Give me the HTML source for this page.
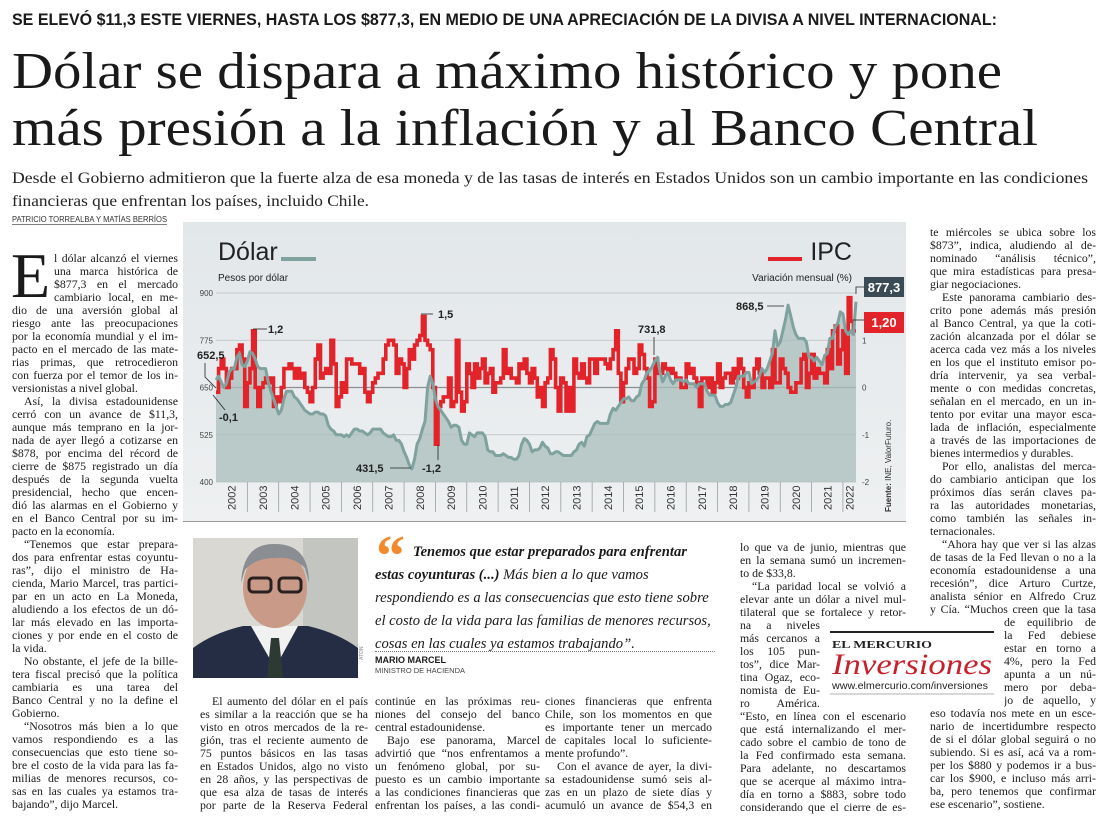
<!DOCTYPE html>
<html><head><meta charset="utf-8">
<style>
*{margin:0;padding:0;box-sizing:border-box}
body{width:1100px;height:827px;background:#fff;position:relative;overflow:hidden;font-family:"Liberation Serif",serif;color:#1a1a1a}
.abs{position:absolute}
.col{position:absolute;font-size:11.8px;line-height:13px}
.l{height:13px;white-space:nowrap;text-align:justify;text-align-last:justify;overflow:hidden}
.e{text-align-last:left}
.i{text-indent:12px}
</style></head><body>

<svg class="abs" style="left:0;top:0" width="1100" height="160">
<text x="12" y="25" font-family="Liberation Sans, sans-serif" font-weight="bold" font-size="17" textLength="985" lengthAdjust="spacingAndGlyphs" fill="#1a1a1a">SE ELEVÓ $11,3 ESTE VIERNES, HASTA LOS $877,3, EN MEDIO DE UNA APRECIACIÓN DE LA DIVISA A NIVEL INTERNACIONAL:</text>
<text x="12" y="88" font-family="Liberation Serif, serif" font-size="52" textLength="990" lengthAdjust="spacingAndGlyphs" fill="#1a1a1a">Dólar se dispara a máximo histórico y pone</text>
<text x="12" y="145" font-family="Liberation Serif, serif" font-size="52" textLength="1026" lengthAdjust="spacingAndGlyphs" fill="#1a1a1a">más presión a la inflación y al Banco Central</text>
</svg>
<svg class="abs" style="left:0;top:160" width="1100" height="70">
<text x="12" y="23" font-family="Liberation Serif, serif" font-size="16" textLength="1076" lengthAdjust="spacingAndGlyphs" fill="#222">Desde el Gobierno admitieron que la fuerte alza de esa moneda y de las tasas de interés en Estados Unidos son un cambio importante en las condiciones</text>
<text x="12" y="46" font-family="Liberation Serif, serif" font-size="16" textLength="357" lengthAdjust="spacingAndGlyphs" fill="#222">financieras que enfrentan los países, incluido Chile.</text>
<text x="12" y="62" font-family="Liberation Sans, sans-serif" font-size="8" textLength="155" lengthAdjust="spacingAndGlyphs" fill="#333">PATRICIO TORREALBA Y MATÍAS BERRÍOS</text>
<line x1="12" y1="64.5" x2="167" y2="64.5" stroke="#555" stroke-width="0.7"/>
</svg>

<!-- left column -->
<div class="abs" style="left:11px;top:250px;font-size:64px;line-height:52px;font-family:'Liberation Serif',serif">E</div>
<div class="col" style="left:12px;top:252px;width:166px">
<div class="l" style="margin-left:42px">l dólar alcanzó el viernes</div>
<div class="l" style="margin-left:42px">una marca histórica de</div>
<div class="l" style="margin-left:42px">$877,3 en el mercado</div>
<div class="l" style="margin-left:42px">cambiario local, en me-</div>
<div class="l">dio de una aversión global al</div>
<div class="l">riesgo ante las preocupaciones</div>
<div class="l">por la economía mundial y el im-</div>
<div class="l">pacto en el mercado de las mate-</div>
<div class="l">rias primas, que retrocedieron</div>
<div class="l">con fuerza por el temor de los in-</div>
<div class="l e">versionistas a nivel global.</div>
<div class="l i">Así, la divisa estadounidense</div>
<div class="l">cerró con un avance de $11,3,</div>
<div class="l">aunque más temprano en la jor-</div>
<div class="l">nada de ayer llegó a cotizarse en</div>
<div class="l">$878, por encima del récord de</div>
<div class="l">cierre de $875 registrado un día</div>
<div class="l">después de la segunda vuelta</div>
<div class="l">presidencial, hecho que encen-</div>
<div class="l">dió las alarmas en el Gobierno y</div>
<div class="l">en el Banco Central por su im-</div>
<div class="l e">pacto en la economía.</div>
<div class="l i">“Tenemos que estar prepara-</div>
<div class="l">dos para enfrentar estas coyuntu-</div>
<div class="l">ras”, dijo el ministro de Ha-</div>
<div class="l">cienda, Mario Marcel, tras partici-</div>
<div class="l">par en un acto en La Moneda,</div>
<div class="l">aludiendo a los efectos de un dó-</div>
<div class="l">lar más elevado en las importa-</div>
<div class="l">ciones y por ende en el costo de</div>
<div class="l e">la vida.</div>
<div class="l i">No obstante, el jefe de la bille-</div>
<div class="l">tera fiscal precisó que la política</div>
<div class="l">cambiaria es una tarea del</div>
<div class="l">Banco Central y no la define el</div>
<div class="l e">Gobierno.</div>
<div class="l i">“Nosotros más bien a lo que</div>
<div class="l">vamos respondiendo es a las</div>
<div class="l">consecuencias que esto tiene so-</div>
<div class="l">bre el costo de la vida para las fa-</div>
<div class="l">milias de menores recursos, co-</div>
<div class="l">sas en las cuales ya estamos tra-</div>
<div class="l e">bajando”, dijo Marcel.</div>
</div>

<!-- right column -->
<div class="col" style="left:930px;top:226px;width:166px">
<div class="l">te miércoles se ubica sobre los</div>
<div class="l">$873”, indica, aludiendo al de-</div>
<div class="l">nominado “análisis técnico”,</div>
<div class="l">que mira estadísticas para presa-</div>
<div class="l e">giar negociaciones.</div>
<div class="l i">Este panorama cambiario des-</div>
<div class="l">crito pone además más presión</div>
<div class="l">al Banco Central, ya que la coti-</div>
<div class="l">zación alcanzada por el dólar se</div>
<div class="l">acerca cada vez más a los niveles</div>
<div class="l">en los que el instituto emisor po-</div>
<div class="l">dría intervenir, ya sea verbal-</div>
<div class="l">mente o con medidas concretas,</div>
<div class="l">señalan en el mercado, en un in-</div>
<div class="l">tento por evitar una mayor esca-</div>
<div class="l">lada de inflación, especialmente</div>
<div class="l">a través de las importaciones de</div>
<div class="l e">bienes intermedios y durables.</div>
<div class="l i">Por ello, analistas del merca-</div>
<div class="l">do cambiario anticipan que los</div>
<div class="l">próximos días serán claves pa-</div>
<div class="l">ra las autoridades monetarias,</div>
<div class="l">como también las señales in-</div>
<div class="l e">ternacionales.</div>
<div class="l i">“Ahora hay que ver si las alzas</div>
<div class="l">de tasas de la Fed llevan o no a la</div>
<div class="l">economía estadounidense a una</div>
<div class="l">recesión”, dice Arturo Curtze,</div>
<div class="l">analista sénior en Alfredo Cruz</div>
<div class="l">y Cía. “Muchos creen que la tasa</div>
<div class="l" style="margin-left:74px">de equilibrio de</div>
<div class="l" style="margin-left:74px">la Fed debiese</div>
<div class="l" style="margin-left:74px">estar en torno a</div>
<div class="l" style="margin-left:74px">4%, pero la Fed</div>
<div class="l" style="margin-left:74px">apunta a un nú-</div>
<div class="l" style="margin-left:74px">mero por deba-</div>
<div class="l" style="margin-left:74px">jo de aquello, y</div>
<div class="l">eso todavía nos mete en un esce-</div>
<div class="l">nario de incertidumbre respecto</div>
<div class="l">de si el dólar global seguirá o no</div>
<div class="l">subiendo. Si es así, acá va a rom-</div>
<div class="l">per los $880 y podemos ir a bus-</div>
<div class="l">car los $900, e incluso más arri-</div>
<div class="l">ba, pero tenemos que confirmar</div>
<div class="l e">ese escenario”, sostiene.</div>
</div>

<!-- column lo que va de junio -->
<div class="col" style="left:740px;top:541px;width:166px">
<div class="l">lo que va de junio, mientras que</div>
<div class="l">en la semana sumó un incremen-</div>
<div class="l e">to de $33,8.</div>
<div class="l i">“La paridad local se volvió a</div>
<div class="l">elevar ante un dólar a nivel mul-</div>
<div class="l">tilateral que se fortalece y retor-</div>
<div class="l" style="width:80px">na a niveles</div>
<div class="l" style="width:80px">más cercanos a</div>
<div class="l" style="width:80px">los 105 pun-</div>
<div class="l" style="width:80px">tos”, dice Mar-</div>
<div class="l" style="width:80px">tina Ogaz, eco-</div>
<div class="l" style="width:80px">nomista de Eu-</div>
<div class="l" style="width:80px">ro América.</div>
<div class="l">“Esto, en línea con el escenario</div>
<div class="l">que está internalizando el mer-</div>
<div class="l">cado sobre el cambio de tono de</div>
<div class="l">la Fed confirmado esta semana.</div>
<div class="l">Para adelante, no descartamos</div>
<div class="l">que se acerque al máximo intra-</div>
<div class="l">día en torno a $883, sobre todo</div>
<div class="l">considerando que el cierre de es-</div>
</div>

<!-- bottom columns -->
<div class="col" style="left:200px;top:695px;width:168px">
<div class="l i">El aumento del dólar en el país</div>
<div class="l">es similar a la reacción que se ha</div>
<div class="l">visto en otros mercados de la re-</div>
<div class="l">gión, tras el reciente aumento de</div>
<div class="l">75 puntos básicos en las tasas</div>
<div class="l">en Estados Unidos, algo no visto</div>
<div class="l">en 28 años, y las perspectivas de</div>
<div class="l">que esa alza de tasas de interés</div>
<div class="l">por parte de la Reserva Federal</div>
</div>
<div class="col" style="left:375px;top:695px;width:165px">
<div class="l">continúe en las próximas reu-</div>
<div class="l">niones del consejo del banco</div>
<div class="l e">central estadounidense.</div>
<div class="l i">Bajo ese panorama, Marcel</div>
<div class="l">advirtió que “nos enfrentamos a</div>
<div class="l">un fenómeno global, por su-</div>
<div class="l">puesto es un cambio importante</div>
<div class="l">a las condiciones financieras que</div>
<div class="l">enfrentan los países, a las condi-</div>
</div>
<div class="col" style="left:545px;top:695px;width:167px">
<div class="l">ciones financieras que enfrenta</div>
<div class="l">Chile, son los momentos en que</div>
<div class="l">es importante tener un mercado</div>
<div class="l">de capitales local lo suficiente-</div>
<div class="l e">mente profundo”.</div>
<div class="l i">Con el avance de ayer, la divi-</div>
<div class="l">sa estadounidense sumó seis al-</div>
<div class="l">zas en un plazo de siete días y</div>
<div class="l">acumuló un avance de $54,3 en</div>
</div>

<!-- photo -->
<svg class="abs" style="left:193px;top:538px" width="165" height="140">
<rect width="165" height="140" fill="#d9d8d3"/>
<rect x="110" width="55" height="140" fill="#c3c6c0"/>
<path d="M0 140 L0 110 Q20 95 50 88 L115 88 Q145 95 165 110 L165 140Z" fill="#252d45"/>
<path d="M58 88 L82 130 L105 88Z" fill="#f1f1f1"/>
<path d="M78 100 L86 100 L90 140 L74 140Z" fill="#2d3a33"/>
<ellipse cx="82" cy="50" rx="32" ry="40" fill="#c99a88"/>
<path d="M48 45 Q50 5 82 6 Q116 6 116 45 L112 30 Q100 18 82 20 Q62 20 52 32Z" fill="#8a8e92"/>
<rect x="56" y="40" width="22" height="14" rx="4" fill="none" stroke="#2a2020" stroke-width="3"/>
<rect x="86" y="40" width="22" height="14" rx="4" fill="none" stroke="#2a2020" stroke-width="3"/>
</svg>
<div class="abs" style="left:359px;top:660px;font-size:5px;font-family:'Liberation Sans',sans-serif;color:#888;transform:rotate(-90deg);transform-origin:left top">ATON</div>

<!-- quote -->
<div class="abs" style="left:376px;top:527px;font-size:58px;line-height:58px;color:#f08a2c;font-family:'Liberation Serif',serif;font-weight:bold">“</div>
<div class="abs" style="left:375px;top:541px;width:345px;font-size:14.6px;line-height:23px;font-style:italic;white-space:nowrap">
<div style="padding-left:38px"><b>Tenemos que estar preparados para enfrentar</b></div>
<div><b>estas coyunturas (...)</b> Más bien a lo que vamos</div>
<div>respondiendo es a las consecuencias que esto tiene sobre</div>
<div>el costo de la vida para las familias de menores recursos,</div>
<div>cosas en las cuales ya estamos trabajando”.</div>
</div>
<div class="abs" style="left:375px;top:651px;width:340px;border-top:1px dotted #777"></div>
<div class="abs" style="left:375px;top:655px;font-family:'Liberation Sans',sans-serif;font-size:9px;font-weight:bold;line-height:11px">MARIO MARCEL</div>
<div class="abs" style="left:375px;top:666px;font-family:'Liberation Sans',sans-serif;font-size:7.5px;color:#444;line-height:9px">MINISTRO DE HACIENDA</div>

<!-- Inversiones logo -->
<svg class="abs" style="left:828px;top:630px" width="170" height="66">
<line x1="2" y1="2" x2="166" y2="2" stroke="#222" stroke-width="2"/>
<text x="4" y="18" font-family="Liberation Serif, serif" font-weight="bold" font-size="11" textLength="100" lengthAdjust="spacingAndGlyphs" fill="#222">EL MERCURIO</text>
<text x="4" y="44" font-family="Liberation Serif, serif" font-style="italic" font-size="30" textLength="160" lengthAdjust="spacingAndGlyphs" fill="#c8202a">Inversiones</text>
<text x="4" y="59" font-family="Liberation Sans, sans-serif" font-size="10" textLength="156" lengthAdjust="spacingAndGlyphs" fill="#222">www.elmercurio.com/inversiones</text>
<line x1="2" y1="64" x2="166" y2="64" stroke="#999" stroke-width="0.8"/>
</svg>

<!-- chart -->
<svg class="abs" id="chart" style="left:183px;top:222px" width="723" height="302">
<defs><linearGradient id="bg" x1="0" y1="0" x2="0" y2="1"><stop offset="0" stop-color="#e2e7ea"/><stop offset="1" stop-color="#eef0f1"/></linearGradient></defs>
<rect width="723" height="299" fill="url(#bg)"/>
<line x1="0" y1="299.5" x2="723" y2="299.5" stroke="#999" stroke-width="1"/>
<g id="grid"></g>
<path id="area" fill="#a8bdbb" fill-opacity="0.75"/>
<path id="ipc" fill="none" stroke="#e3232a" stroke-width="3.6" stroke-linejoin="miter"/>
<path id="dol" fill="none" stroke="#7fa29f" stroke-width="3" stroke-linejoin="round"/>
<g id="years"></g>
<text x="35" y="38" font-family="Liberation Sans, sans-serif" font-size="25" fill="#222">Dólar</text>
<line x1="98" y1="37" x2="133" y2="37" stroke="#7fa29f" stroke-width="4"/>
<text x="35" y="59" font-family="Liberation Sans, sans-serif" font-size="10" fill="#222">Pesos por dólar</text>
<line x1="585" y1="37" x2="619" y2="37" stroke="#e3232a" stroke-width="4"/>
<text x="669" y="38" text-anchor="end" font-family="Liberation Sans, sans-serif" font-size="25" fill="#222">IPC</text>
<text x="669" y="59" text-anchor="end" font-family="Liberation Sans, sans-serif" font-size="10" fill="#222">Variación mensual (%)</text>
<g font-family="Liberation Sans, sans-serif" font-weight="bold" font-size="11" fill="#222" id="ann">
<text x="14" y="137">652,5</text>
<path d="M22 141 L22 155 L33 166" stroke="#222" fill="none" stroke-width="0.8"/>
<text x="36" y="199">-0,1</text>
<path d="M42 188 L30 173" stroke="#222" stroke-width="0.8"/>
<text x="85" y="111">1,2</text>
<path d="M84 107 L70 107" stroke="#222" stroke-width="0.8"/>
<text x="255" y="96">1,5</text>
<path d="M250 92 L238 92" stroke="#222" stroke-width="0.8"/>
<text x="173" y="250">431,5</text>
<path d="M207 246 L228 246" stroke="#222" stroke-width="0.8"/>
<text x="239" y="250">-1,2</text>
<path d="M255 238 L255 223" stroke="#222" stroke-width="0.8"/>
<text x="455" y="111">731,8</text>
<path d="M471 115 L471 133" stroke="#222" stroke-width="0.8"/>
<text x="553" y="88">868,5</text>
<path d="M584 84 L601 84" stroke="#222" stroke-width="0.8"/>
</g>
<path d="M673 72 L673 65 L681 65" stroke="#222" fill="none" stroke-width="0.8"/>
<rect x="681" y="55" width="40" height="20" fill="#3a4b55"/>
<text x="701" y="70" text-anchor="middle" font-family="Liberation Sans, sans-serif" font-weight="bold" font-size="13" fill="#fff">877,3</text>
<path d="M670 98 L681 98" stroke="#222" stroke-width="0.8"/>
<rect x="681" y="90" width="40" height="21" fill="#e3232a"/>
<text x="701" y="105" text-anchor="middle" font-family="Liberation Sans, sans-serif" font-weight="bold" font-size="13" fill="#fff">1,20</text>
<text transform="translate(708,290) rotate(-90)" font-family="Liberation Sans, sans-serif" font-size="8" fill="#333"><tspan font-weight="bold">Fuente:</tspan> INE, ValorFuturo.</text>
</svg>

<script>
const leftTicks=[400,525,650,775,900];
const rightTicks=[-2,-1,0,1,2];
const rightTickLabels=["-2","-1","0","1",""];
const yearLabels=["2002","2003","2004","2005","2006","2007","2008","2009","2010","2011","2012","2013","2014","2015","2016","2017","2018","2019","2020","2021","2022"];
const dolar=[
670,680,665,650,660,690,700,700,730,740,710,705,
720,745,740,725,705,700,700,700,665,640,620,600,
580,590,620,640,640,640,625,620,610,600,590,585,
580,580,585,585,580,580,575,550,540,535,525,525,
525,520,525,520,530,540,540,535,535,530,525,530,
540,540,540,540,530,525,520,520,525,510,510,500,
480,465,445,435,460,500,515,540,560,650,680,660,
620,600,590,580,570,560,545,550,550,545,510,500,
500,530,525,520,530,530,530,520,485,480,480,470,
470,470,475,470,465,465,460,460,470,500,515,510,
500,480,485,485,490,505,495,490,475,475,480,480,
475,470,470,470,470,480,485,500,505,495,520,525,
540,555,560,555,555,555,555,580,595,590,600,610,
620,620,625,615,615,625,630,660,670,690,695,705,
720,730,690,665,680,690,670,660,670,670,670,665,
670,660,660,660,650,660,660,660,640,630,630,630,
610,600,600,605,605,610,630,650,680,680,680,690,
690,660,665,670,680,700,690,700,720,740,800,760,
770,800,830,868,840,810,790,780,780,780,770,730,
730,720,730,720,710,735,740,780,780,810,820,850,
845,800,790,800,790,877];
const ipc=[
-0.1,0.4,0.6,0.4,0.0,0.2,0.4,0.4,0.8,0.9,0.6,-0.4,
0.1,0.4,1.2,0.0,-0.4,0.0,0.1,0.2,0.1,0.2,-0.4,-0.2,
-0.3,0.0,0.4,0.4,0.5,0.4,0.2,0.4,0.2,0.3,0.0,-0.1,
-0.3,0.0,0.6,0.9,0.2,0.3,0.4,0.3,1.0,0.5,-0.4,-0.2,
0.1,-0.1,0.6,0.6,0.5,0.5,0.5,0.3,0.4,-0.1,-0.3,-0.1,
0.1,0.2,0.3,0.3,0.6,0.9,1.0,1.0,0.9,0.3,0.6,0.5,
0.0,0.4,0.8,0.6,0.9,1.0,1.1,1.5,1.0,0.9,0.8,0.0,
-1.2,-0.4,-0.3,-0.2,-0.2,0.2,-0.4,-0.3,1.0,-0.1,-0.5,-0.3,
0.5,0.3,0.0,0.5,0.2,0.4,0.6,0.1,0.3,0.4,-0.1,0.1,
0.1,0.2,0.8,0.3,0.4,0.2,0.2,0.1,0.5,0.4,0.6,0.3,
0.1,0.4,0.2,-0.2,0.0,-0.4,0.1,0.2,0.8,0.6,0.0,-0.5,
0.2,0.1,-0.5,0.0,-0.5,0.6,0.3,0.2,0.5,0.2,0.1,0.6,
0.6,0.3,0.6,0.6,0.6,0.5,0.4,0.6,0.8,1.2,0.3,-0.3,
0.1,0.4,0.6,0.6,0.3,0.4,0.9,0.7,0.4,0.2,-0.4,-0.3,
0.6,0.3,0.3,0.5,0.4,0.3,0.4,0.3,0.2,0.2,0.0,0.0,
0.5,0.3,0.4,0.2,0.1,-0.4,0.2,0.2,0.0,0.2,-0.1,0.1,
0.5,0.0,0.2,0.3,0.3,0.1,0.4,0.2,0.6,0.4,0.0,-0.2,
0.1,0.0,0.4,0.6,0.3,0.0,0.2,0.2,0.0,0.8,0.1,0.1,
0.6,0.4,0.3,0.0,-0.1,-0.1,0.1,0.1,0.6,0.7,0.0,0.3,
0.7,0.2,0.4,0.3,0.3,0.1,0.8,0.4,1.2,1.3,0.5,0.8,
1.2,0.3,1.9,1.4,1.2];

const NS="http://www.w3.org/2000/svg";
const X0=33, X1=673, Ytop=71, Ybot=260;
const months=245;
const x=i=>X0+i*(X1-X0)/months;
const yL=v=>Ybot-(v-400)/(900-400)*(Ybot-Ytop);
const yR=v=>yL(650+125*v);
function mk(tag,attrs,parent){const e=document.createElementNS(NS,tag);for(const k in attrs)e.setAttribute(k,attrs[k]);parent.appendChild(e);return e;}
const grid=document.getElementById('grid');
leftTicks.forEach((t,k)=>{
  const yy=yL(t);
  const ln=mk('line',{x1:X0,x2:X1,y1:yy,y2:yy,stroke:t===650?'#8a8f92':'#b9bfc2','stroke-width':t===650?1.2:0.8},grid);
  
  
  const tx=mk('text',{x:X0-3,y:yy+3,'text-anchor':'end','font-family':'Liberation Sans, sans-serif','font-size':8,fill:'#444'},grid);
  tx.textContent=t;
  
  
});
rightTicks.forEach((t,k)=>{
  const tx=mk('text',{x:X1+6,y:yR(t)+3,'font-family':'Liberation Sans, sans-serif','font-size':8,fill:'#444'},grid);
  tx.textContent=rightTickLabels[k];
  
  
});
let d='';dolar.forEach((v,i)=>{d+=(i?'L':'M')+x(i).toFixed(1)+' '+yL(v).toFixed(1);});
document.getElementById('dol').setAttribute('d',d);
document.getElementById('area').setAttribute('d',d+'L'+x(dolar.length-1).toFixed(1)+' '+Ybot+'L'+X0+' '+Ybot+'Z');
let p='';ipc.forEach((v,i)=>{const yy=yR(v).toFixed(1);p+=(i?'L':'M')+x(i).toFixed(1)+' '+yy+'L'+x(i+1).toFixed(1)+' '+yy;});
document.getElementById('ipc').setAttribute('d',p);
const yg=document.getElementById('years');
yearLabels.forEach((lab,k)=>{
  const xa=x(k*12);
  if(k>0){const s=mk('line',{x1:xa,x2:xa,y1:Ybot,y2:Ybot+30,stroke:'#9aa0a3','stroke-width':0.8},yg);
  
  }
  const xc=Math.min(x(k*12+6),(xa+X1)/2);
  const t=mk('text',{transform:`translate(${(xc+4).toFixed(1)},${Ybot+28}) rotate(-90)`,'font-family':'Liberation Sans, sans-serif','font-size':11,fill:'#333'},yg);
  t.textContent=lab;
  
  
});
</script>
</body></html>
